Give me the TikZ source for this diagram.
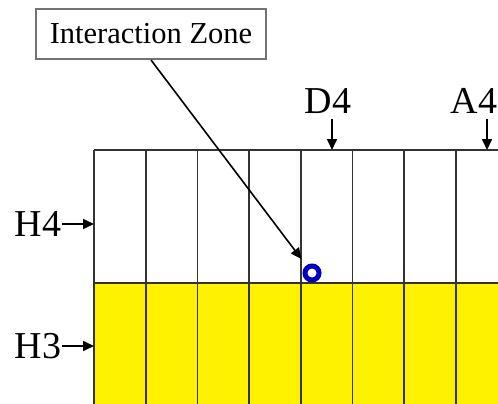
\documentclass[tikz,border=0pt]{standalone}
\usepackage{fontspec}
\setmainfont{Liberation Serif}
\usetikzlibrary{arrows.meta}
\tikzset{
  gridline/.style={draw=black!80, line width=1.8pt},
  lbl/.style={inner sep=0pt, font=\fontsize{38}{40}\selectfont},
  arr/.style={draw=black, line width=1.6pt, -{Triangle[length=11pt,width=10pt]}},
  zonebox/.style={draw=black!55, line width=2pt, inner xsep=14pt, minimum height=50pt, fill=white, font=\fontsize{30.5}{32}\selectfont},
  zone/.style={circle, draw=blue!75!black, line width=5pt, minimum size=14pt, inner sep=0pt}
}
\begin{document}
\begin{tikzpicture}[x=1pt,y=-1pt]
\useasboundingbox (0,0) rectangle (498,404);
\clip (0,0) rectangle (498,404);
% yellow lower layer
\fill[yellow] (94,283) rectangle (520,420);
% grid
\draw[gridline] (94,150) -- (520,150);
\draw[gridline] (94,283) -- (520,283);
\foreach \i in {0,...,8} {
  \draw[gridline] ({94+51.7*\i},150) -- ({94+51.7*\i},420);
}
% labels
\node[zonebox] (box) at (151,34) {Interaction Zone};
\node[zone] (iz) at (312,273) {};
\draw[arr, shorten >=8pt] (box.south) -- (iz);

\node[lbl] (D4) at (328,101) {D4};
\node[lbl] (A4) at (474,101) {A4};
\node[lbl] (H4) at (38,224) {H4};
\node[lbl] (H3) at (38,346) {H3};
\coordinate (D4t) at (332,150);
\coordinate (A4t) at (487,150);
\coordinate (H4t) at (94,224);
\coordinate (H3t) at (94,346);
\draw[arr] (D4.south -| D4t) ++(0,5) -- (D4t);
\draw[arr] (A4.south -| A4t) ++(0,5) -- (A4t);
\draw[arr] (H4.east) ++(1,0) -- (H4t);
\draw[arr] (H3.east) ++(1,0) -- (H3t);
\end{tikzpicture}
\end{document}
